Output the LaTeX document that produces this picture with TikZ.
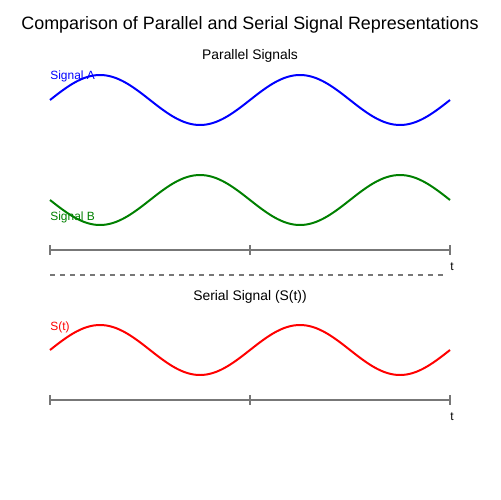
\documentclass[tikz,border=0pt]{standalone}
\usepackage{fontspec}
\setmainfont{Liberation Sans}
\usetikzlibrary{positioning}
\definecolor{SigBlue}{HTML}{0000FF}
\definecolor{SigGreen}{HTML}{008000}
\definecolor{SigRed}{HTML}{FF0000}
\definecolor{AxisGray}{HTML}{777777}

\begin{document}
\begin{tikzpicture}[
  x=0.02cm,y=-0.02cm,
  title/.style={inner sep=0pt,anchor=base,font=\fontsize{10.2pt}{12pt}\selectfont},
  subtitle/.style={inner sep=0pt,anchor=base,font=\fontsize{7.9pt}{9pt}\selectfont},
  siglabel/.style={inner sep=0pt,anchor=base west,font=\fontsize{6.8pt}{8pt}\selectfont},
  wave/.style={line width=1.13pt,smooth,samples=121,domain=50:450},
  timeaxis/.style={line width=1.13pt,draw=AxisGray},
  separator/.style={line width=1.13pt,draw=AxisGray,dash pattern=on 2.83pt off 2.83pt}]
\useasboundingbox (0,0) rectangle (500,500);
% titles
\node[title] (maintitle) at (250,30) {Comparison of Parallel and Serial Signal Representations};
\node[subtitle] (partitle) at (250,60) {Parallel Signals};
\node[subtitle] (sertitle) at (250,300) {Serial Signal (S(t))};
% parallel signals
\draw[wave,SigBlue] plot (\x,{100-25*sin(1.8*(\x-50))});
\node[siglabel,text=SigBlue] (labela) at (50,80) {Signal A};
\draw[wave,SigGreen] plot (\x,{200+25*sin(1.8*(\x-50))});
\node[siglabel,text=SigGreen] (labelb) at (50,220) {Signal B};
\draw[timeaxis] (50,250) -- (450,250);
\foreach \tx in {50,250,450}
  \draw[timeaxis] (\tx,245) -- (\tx,255);
\node[siglabel] (tpar) at (450,270) {t};
\draw[separator] (50,275) -- (445,275);
% serial signal
\draw[wave,SigRed] plot (\x,{350-25*sin(1.8*(\x-50))});
\node[siglabel,text=SigRed] (labels) at (50,330) {S(t)};
\draw[timeaxis] (50,400) -- (450,400);
\foreach \tx in {50,250,450}
  \draw[timeaxis] (\tx,395) -- (\tx,405);
\node[siglabel] (tser) at (450,420) {t};
\end{tikzpicture}
\end{document}
